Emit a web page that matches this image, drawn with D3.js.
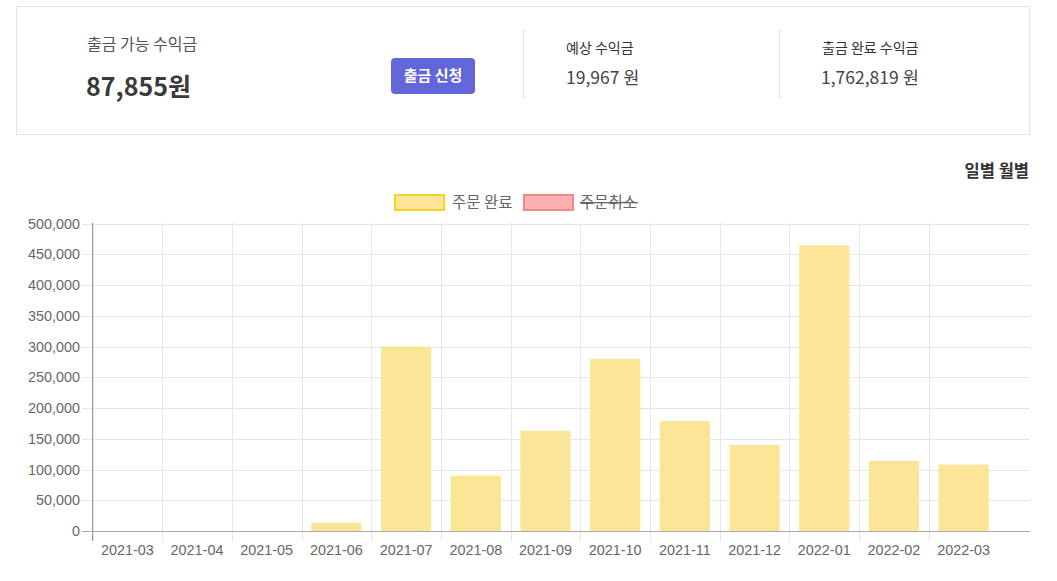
<!DOCTYPE html>
<html><head><meta charset="utf-8">
<script src="https://cdn.jsdelivr.net/npm/d3@7/dist/d3.min.js"></script>
<style>
body{margin:0;background:#fff;}
svg{display:block;}
</style></head>
<body>
<svg id="c" width="1057" height="581"></svg>
<script>
const categories = ["2021-03","2021-04","2021-05","2021-06","2021-07","2021-08","2021-09","2021-10","2021-11","2021-12","2022-01","2022-02","2022-03"];
const completedValues = [0,0,0,13500,300000,90000,163000,280000,179000,140000,464500,114000,108000];
const yTicks = [0,50000,100000,150000,200000,250000,300000,350000,400000,450000,500000];
const legendLabels = ["주문 완료","주문취소"];
const summaryLabels = ["출금 가능 수익금","예상 수익금","출금 완료 수익금"];
const summaryValues = ["87,855원","19,967 원","1,762,819 원"];

const svg = d3.select("#c");
const KR = "'Noto Sans CJK KR','Noto Sans',sans-serif";
const AR = "'Liberation Sans',Arial,sans-serif";

// summary card
svg.append("rect").attr("x",16.5).attr("y",6.5).attr("width",1013).attr("height",128)
  .attr("fill","#fff").attr("stroke","#e3e3e3");
svg.append("text").attr("x",87).attr("y",50).text(summaryLabels[0])
  .attr("font-family",KR).attr("font-size",16).attr("fill","#555");
svg.append("text").attr("x",86).attr("y",96).text(summaryValues[0])
  .attr("font-family",KR).attr("font-size",25).attr("font-weight",600).attr("fill","#3a3a3a");
svg.append("rect").attr("x",391).attr("y",58).attr("width",84).attr("height",36).attr("rx",4)
  .attr("fill","#6366d9");
svg.append("text").attr("x",433).attr("y",81).attr("text-anchor","middle").text("출금 신청")
  .attr("font-family",KR).attr("font-size",15).attr("font-weight","bold").attr("fill","#fff");
[523.5,779.5].forEach(x=>svg.append("line").attr("x1",x).attr("x2",x).attr("y1",29).attr("y2",99).attr("stroke","#e3e3e3"));
svg.append("text").attr("x",566).attr("y",53).text(summaryLabels[1])
  .attr("font-family",KR).attr("font-size",14).attr("fill","#333");
svg.append("text").attr("x",566).attr("y",84).text(summaryValues[1])
  .attr("font-family",KR).attr("font-size",17.5).attr("fill","#444");
svg.append("text").attr("x",822).attr("y",53).text(summaryLabels[2])
  .attr("font-family",KR).attr("font-size",14).attr("fill","#333");
svg.append("text").attr("x",821).attr("y",84).text(summaryValues[2])
  .attr("font-family",KR).attr("font-size",17.5).attr("fill","#444");

// toggle
svg.append("text").attr("x",1029).attr("y",177).attr("text-anchor","end").text("일별 월별")
  .attr("font-family",KR).attr("font-size",16.5).attr("font-weight","bold").attr("fill","#333");

// legend
const lg = svg.append("g");
lg.append("rect").attr("x",395).attr("y",195).attr("width",49).attr("height",15)
  .attr("fill","rgba(250,230,150,1)").attr("stroke","#f5d31f").attr("stroke-width",2);
lg.append("text").attr("x",452).attr("y",208).text(legendLabels[0])
  .attr("font-family",KR).attr("font-size",15.5).attr("fill","#666");
lg.append("rect").attr("x",524).attr("y",195).attr("width",49).attr("height",15)
  .attr("fill","#ffb1b1").attr("stroke","#f08a8a").attr("stroke-width",2);
lg.append("text").attr("x",580).attr("y",208).text(legendLabels[1])
  .attr("font-family",KR).attr("font-size",15.5).attr("fill","#666");
lg.append("rect").attr("x",580).attr("y",202).attr("width",58).attr("height",1.3).attr("fill","#666");

// chart
const x0 = 92.5, xEnd = 1030, bandEnd = 998.5;
const y = d3.scaleLinear().domain([0,500000]).range([531,223.5]);
const x = d3.scaleBand().domain(categories).range([x0,bandEnd]).paddingInner(0).paddingOuter(0);

const grid = svg.append("g");
yTicks.forEach(t=>{
  const yy = Math.round(y(t))+0.5;
  grid.append("line").attr("x1",82).attr("x2",xEnd).attr("y1",yy).attr("y2",yy).attr("stroke","#e6e6e6");
});
categories.forEach((c,i)=>{
  const xx = Math.round(x(c))+0.5;
  grid.append("line").attr("x1",xx).attr("x2",xx).attr("y1",223).attr("y2",541).attr("stroke","#e6e6e6");
});

// bars
const bw = x.bandwidth()*0.72;
svg.append("g").selectAll("rect").data(categories).join("rect")
  .attr("x",(d,i)=>x(d)+(x.bandwidth()-bw)/2)
  .attr("width",bw)
  .attr("y",(d,i)=>y(completedValues[i]))
  .attr("height",(d,i)=>y(0)-y(completedValues[i]))
  .attr("fill","rgba(250,230,150,1)");

// axes lines
svg.append("line").attr("x1",x0).attr("x2",x0).attr("y1",223).attr("y2",541).attr("stroke","#999");
svg.append("line").attr("x1",82).attr("x2",xEnd).attr("y1",Math.round(y(0))+0.5).attr("y2",Math.round(y(0))+0.5).attr("stroke","#aaa");

// y labels
const fmt = d3.format(",");
svg.append("g").selectAll("text").data(yTicks).join("text")
  .attr("x",80).attr("y",d=>y(d)+5).attr("text-anchor","end").text(d=>fmt(d))
  .attr("font-family",AR).attr("font-size",14.4).attr("fill","#666");
// x labels
svg.append("g").selectAll("text").data(categories).join("text")
  .attr("x",d=>x(d)+x.bandwidth()/2).attr("y",555).attr("text-anchor","middle").text(d=>d)
  .attr("font-family",AR).attr("font-size",14.4).attr("fill","#666");
</script>
</body></html>
